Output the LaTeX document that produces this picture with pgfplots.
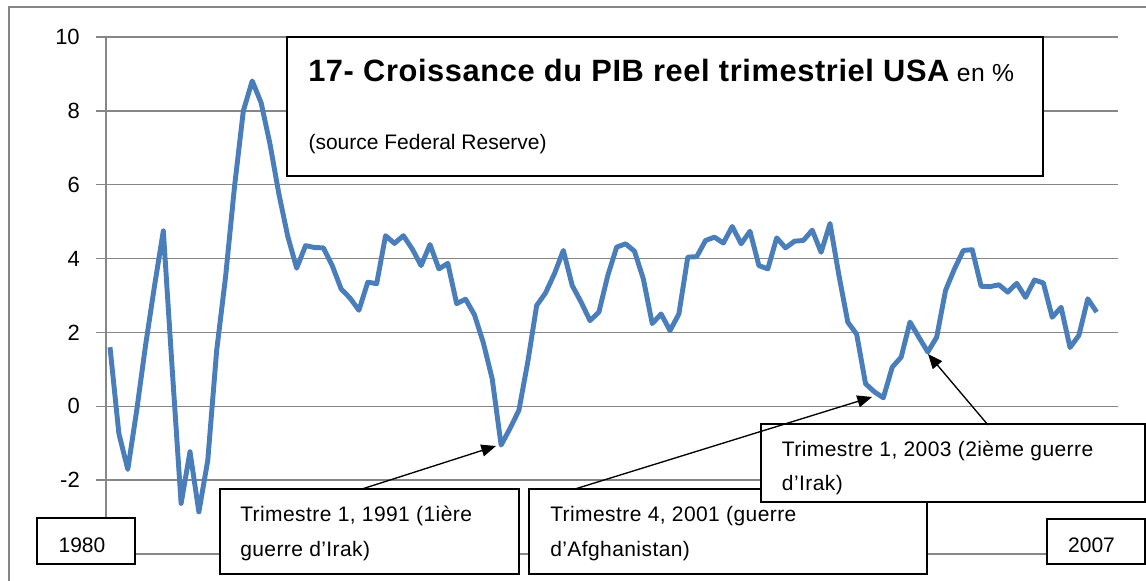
\documentclass[border=0pt]{standalone}
\usepackage{fontspec}
\setmainfont{Liberation Sans}
\newfontfamily\spaced[LetterSpace=2]{Liberation Sans}
\usepackage{pgfplots}
\pgfplotsset{compat=1.18}
\usetikzlibrary{arrows.meta}
\definecolor{gridgray}{RGB}{134,134,134}
\definecolor{lineblue}{RGB}{74,126,187}
\begin{document}
\begin{tikzpicture}
\useasboundingbox (0,0) rectangle (859.5pt,-435.75pt);
\begin{axis}[
  at={(79.5pt,-27.75pt)}, anchor=north west,
  scale only axis, width=759pt, height=387.75pt,
  xmin=-0.45, xmax=113.4, ymin=-4, ymax=10,
  ytick={-4,-2,...,10}, yticklabels={,{-2},0,2,4,6,8,10}, xtick=\empty,
  axis x line*=bottom, axis y line*=left,
  axis line style={-, draw=gridgray, line width=1pt},
  ymajorgrids, grid style={draw=gridgray, line width=1pt},
  major tick length=7.5pt, tick align=outside,
  ytick style={draw=gridgray, line width=1pt},
  yticklabel style={font=\fontsize{16.5}{19}\selectfont, inner sep=0pt, xshift=-12pt},
  clip=false,
]
\addplot[lineblue, line width=3.7pt, line join=round, mark=none] table {
x y
0 1.60
1 -0.74
2 -1.71
3 -0.12
4 1.65
5 3.25
6 4.75
7 1.0
8 -2.63
9 -1.23
10 -2.86
11 -1.46
12 1.51
13 3.5
14 5.93
15 8.0
16 8.81
17 8.22
18 7.1
19 5.75
20 4.6
21 3.74
22 4.35
23 4.3
24 4.29
25 3.81
26 3.18
27 2.93
28 2.6
29 3.36
30 3.32
31 4.62
32 4.41
33 4.62
34 4.26
35 3.81
36 4.38
37 3.72
38 3.87
39 2.78
40 2.9
41 2.48
42 1.72
43 0.74
44 -1.05
45 -0.6
46 -0.11
47 1.2
48 2.73
49 3.07
50 3.59
51 4.22
52 3.27
53 2.82
54 2.32
55 2.55
56 3.54
57 4.31
58 4.4
59 4.2
60 3.45
61 2.24
62 2.5
63 2.05
64 2.5
65 4.04
66 4.05
67 4.49
68 4.58
69 4.42
70 4.87
71 4.4
72 4.74
73 3.81
74 3.72
75 4.56
76 4.29
77 4.47
78 4.49
79 4.77
80 4.17
81 4.95
82 3.55
83 2.28
84 1.95
85 0.61
86 0.39
87 0.23
88 1.06
89 1.33
90 2.28
91 1.87
92 1.47
93 1.87
94 3.14
95 3.72
96 4.22
97 4.24
98 3.25
99 3.24
100 3.29
101 3.09
102 3.33
103 2.95
104 3.42
105 3.34
106 2.41
107 2.68
108 1.59
109 1.92
110 2.91
111 2.55
};
\end{axis}
\begin{scope}[x=0.75pt,y=-0.75pt]
\draw[gridgray, line width=1pt] (9,581) -- (9,7) -- (1146,7);
\tikzset{box/.style={draw=black, line width=1.1pt, fill=white},
  ann/.style={anchor=base west, inner sep=0pt, font=\spaced\fontsize{15.75}{19}\selectfont}}
% year boxes
\draw[box] (37,518) rectangle (135,564);
\node[inner sep=0pt, font=\fontsize{15.75}{19}\selectfont] at (82,545.5) {1980};
\draw[box] (1047,519) rectangle (1145,564);
\node[inner sep=0pt, font=\fontsize{15.75}{19}\selectfont] at (1091.5,545.5) {2007};
% 1991 box
\draw[box] (220,489) rectangle (519,574);
\node[ann] at (240,521.7) {Trimestre 1, 1991 (1ière};
\node[ann] at (240,556.7) {guerre d’Irak)};
% 2001 box
\draw[box] (529,489) rectangle (927,574);
\node[ann] at (550,521.7) {Trimestre 4, 2001 (guerre};
\node[ann] at (550,556.7) {d’Afghanistan)};
% 2003 box
\draw[box] (761,424) rectangle (1145,502);
\node[ann] at (781.7,456.7) {Trimestre 1, 2003 (2ième guerre};
\node[ann] at (781.7,490.7) {d’Irak)};
% title box
\draw[box] (287,37) rectangle (1043,176);
\node[anchor=base west, inner sep=0pt] at (308,81.7) {\spaced\fontsize{23.1}{28}\selectfont\bfseries 17- Croissance du PIB reel trimestriel USA\fontsize{18.5}{22}\selectfont\mdseries\ en \%};
\node[anchor=base west, inner sep=0pt, font=\fontsize{15.75}{19}\selectfont] at (308.3,150) {(source Federal Reserve)};
% arrows
\draw[black, line width=1pt, -{Triangle[length=11pt,width=9pt]}] (362,489) -- (496,446);
\draw[black, line width=1pt, -{Triangle[length=11pt,width=9pt]}] (575,489) -- (872,397);
\draw[black, line width=1pt, -{Triangle[length=11pt,width=9pt]}] (988,425) -- (928,354);
\end{scope}
\end{tikzpicture}
\end{document}
